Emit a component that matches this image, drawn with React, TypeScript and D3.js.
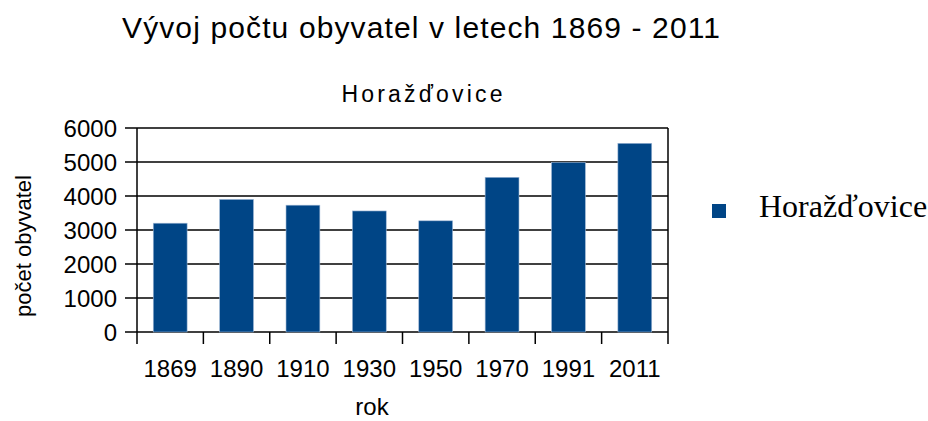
import React, { useRef, useEffect } from 'react';
import * as d3 from 'd3';

const years = ['1869', '1890', '1910', '1930', '1950', '1970', '1991', '2011'];
const population = [3200, 3900, 3730, 3560, 3270, 4550, 4990, 5550];
const yTicks = [0, 1000, 2000, 3000, 4000, 5000, 6000];
const seriesName = 'Horažďovice';
const titleText = 'Vývoj počtu obyvatel v letech 1869 - 2011';

const App = () => {
    const svgRef = useRef<SVGSVGElement>(null);

    useEffect(() => {
        const svg = d3.select(svgRef.current);
        svg.selectAll('*').remove();

        const left = 137, right = 668, top = 128, bottom = 332;
        const sans = 'Liberation Sans, Arial, sans-serif';

        const x = d3.scaleBand()
            .domain(years)
            .range([left, right])
            .paddingInner(0.49)
            .paddingOuter(0.245);
        const xCat = d3.scaleBand().domain(years).range([left, right]).padding(0);

        const y = d3.scaleLinear()
            .domain([0, 6000])
            .range([bottom, top]);

        // grid lines
        svg.append('g')
            .selectAll('line')
            .data(yTicks)
            .enter()
            .append('line')
            .attr('x1', left - 12)
            .attr('x2', right)
            .attr('y1', (d) => y(d))
            .attr('y2', (d) => y(d))
            .attr('stroke', '#000')
            .attr('stroke-width', 1.5);

        // bars
        svg.selectAll('.bar')
            .data(years)
            .enter()
            .append('rect')
            .attr('x', (d) => x(d)!)
            .attr('y', (d, i) => y(population[i]))
            .attr('width', x.bandwidth())
            .attr('height', (d, i) => bottom - y(population[i]))
            .attr('fill', '#004586')
            .attr('stroke', '#9fb8d6')
            .attr('stroke-width', 0.6);

        // axes lines
        svg.append('line')
            .attr('x1', left).attr('x2', left)
            .attr('y1', top).attr('y2', bottom + 12)
            .attr('stroke', '#000').attr('stroke-width', 1.5);
        svg.append('line')
            .attr('x1', right).attr('x2', right)
            .attr('y1', top).attr('y2', bottom + 12)
            .attr('stroke', '#000').attr('stroke-width', 1.5);

        // x ticks on category boundaries
        const boundaries = years.slice(1).map((d) => xCat(d)!);
        svg.append('g')
            .selectAll('line')
            .data(boundaries)
            .enter()
            .append('line')
            .attr('x1', (d) => d).attr('x2', (d) => d)
            .attr('y1', bottom).attr('y2', bottom + 12)
            .attr('stroke', '#000').attr('stroke-width', 1.5);

        // y tick labels
        svg.append('g')
            .selectAll('text')
            .data(yTicks)
            .enter()
            .append('text')
            .attr('x', 117)
            .attr('y', (d) => y(d) + 9)
            .attr('text-anchor', 'end')
            .style('font-family', sans)
            .style('font-size', '24px')
            .attr('fill', '#000')
            .text((d) => d);

        // x tick labels
        svg.append('g')
            .selectAll('text')
            .data(years)
            .enter()
            .append('text')
            .attr('x', (d) => xCat(d)! + xCat.bandwidth() / 2)
            .attr('y', 377)
            .attr('text-anchor', 'middle')
            .style('font-family', sans)
            .style('font-size', '24px')
            .attr('fill', '#000')
            .text((d) => d);

        // titles
        svg.append('text')
            .attr('x', 421).attr('y', 38)
            .attr('text-anchor', 'middle')
            .attr('textLength', 598)
            .attr('lengthAdjust', 'spacing')
            .style('font-family', sans)
            .style('font-size', '30px')
            .text(titleText);

        svg.append('text')
            .attr('x', 422).attr('y', 102)
            .attr('text-anchor', 'middle')
            .attr('textLength', 161)
            .attr('lengthAdjust', 'spacing')
            .style('font-family', sans)
            .style('font-size', '23px')
            .text(seriesName);

        svg.append('text')
            .attr('x', 372).attr('y', 415)
            .attr('text-anchor', 'middle')
            .style('font-family', sans)
            .style('font-size', '24px')
            .text('rok');

        svg.append('text')
            .attr('transform', 'translate(31, 246) rotate(-90)')
            .attr('text-anchor', 'middle')
            .style('font-family', sans)
            .style('font-size', '22px')
            .text('počet obyvatel');

        // legend
        svg.append('rect')
            .attr('x', 712).attr('y', 204)
            .attr('width', 14).attr('height', 14)
            .attr('fill', '#004586');
        svg.append('text')
            .attr('x', 759).attr('y', 217)
            .style('font-family', 'Liberation Serif, Times New Roman, serif')
            .style('font-size', '32px')
            .text(seriesName);
    }, []);

    return (
        <div>
            <svg ref={svgRef} width={928} height={421}
                style={{ position: 'absolute', left: 0, top: 0, background: '#fff' }}></svg>
        </div>
    );
};

export default App;
